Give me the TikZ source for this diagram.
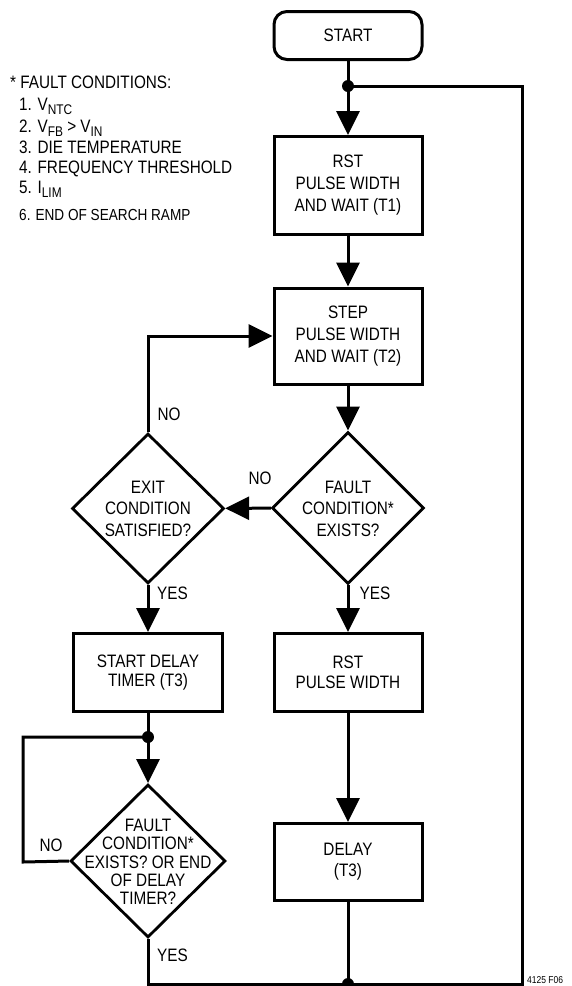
\documentclass[tikz,border=0pt]{standalone}
\usepackage{fontspec}
\setmainfont{Liberation Sans}[FakeStretch=0.85]
\usetikzlibrary{shapes.geometric,arrows.meta}
\newcommand\lowsub[1]{\raisebox{-4pt}{\fontsize{14}{14}\selectfont #1}}
\begin{document}
\begin{tikzpicture}[x=1pt,y=-1pt,
  box/.style={draw, line width=3pt, minimum width=148pt, inner sep=0pt, align=center},
  dia/.style={draw, diamond, line width=2.8pt, inner sep=0pt},
  txt/.style={inner sep=0pt, align=center, font=\fontsize{18}{21.5}\selectfont},
  txtsm/.style={inner sep=0pt, align=center, font=\fontsize{18}{18.3}\selectfont},
  lbl/.style={inner sep=0pt, font=\fontsize{18}{18}\selectfont},
  note/.style={inner sep=0pt, anchor=base west, font=\fontsize{18}{18}\selectfont},
  conn/.style={line width=3pt},
  arr/.style={line width=3pt, -{Triangle[length=24pt,width=23pt]}},
  jdot/.style={circle, fill, inner sep=0pt, minimum size=12pt}
]
\useasboundingbox (0,0) rectangle (572,986);

% notes
\node[note] (n0) at (10,88) {* FAULT CONDITIONS:};
\node[note] (n1) at (19,110) {1. V\lowsub{NTC}};
\node[note] (n2) at (19,132) {2. V\lowsub{FB} > V\lowsub{IN}};
\node[note] (n3) at (19,153) {3. DIE TEMPERATURE};
\node[note] (n4) at (19,173) {4. FREQUENCY THRESHOLD};
\node[note] (n5) at (19,193) {5. I\lowsub{LIM}};
\node[note, font=\fontsize{16}{16}\selectfont] (n6) at (19,220) {6. END OF SEARCH RAMP};

% right column
\node[box, rounded corners=13pt, minimum height=48pt, font=\fontsize{18}{21.5}\selectfont] (start) at (348,35.5) {START};
\node[box, minimum height=98pt, font=\fontsize{18}{22}\selectfont] (b1) at (348,185.5) {RST\\PULSE WIDTH\\AND WAIT (T1)};
\node[box, minimum height=96pt, font=\fontsize{18}{22}\selectfont] (b2) at (348,336) {STEP\\PULSE WIDTH\\AND WAIT (T2)};
\node[dia, minimum width=152pt, minimum height=152pt] (d1) at (348,508) {};
\node[txt] (t1) at (348,508.5) {FAULT\\CONDITION*\\EXISTS?};
\node[box, minimum height=78pt, font=\fontsize{18}{20.5}\selectfont] (b3) at (348,672.5) {RST\\PULSE WIDTH};
\node[box, minimum height=77pt, font=\fontsize{18}{21}\selectfont] (b4) at (348,862) {DELAY\\(T3)};

% left column
\node[dia, minimum width=152pt, minimum height=150pt] (ex) at (148,508.5) {};
\node[txt] (t2) at (148,508.5) {EXIT\\CONDITION\\SATISFIED?};
\node[box, minimum width=149pt, minimum height=78pt, font=\fontsize{18}{19.5}\selectfont] (b5) at (148,672.5) {START DELAY\\TIMER (T3)};
\node[dia, minimum width=155pt, minimum height=153pt] (d3) at (148,861) {};
\node[txtsm] (t3) at (148,862) {FAULT\\CONDITION*\\EXISTS? OR END\\OF DELAY\\TIMER?};

% junctions and corners
\node[jdot] (dtop) at (348,86) {};
\node[jdot] (dleft) at (148,737) {};
\node[jdot] (dbot) at (348,984) {};
\coordinate (ll) at (23,862);
\coordinate (br) at (522,984);
\coordinate (tr) at (522,86);

% labels
\node[lbl] (no1) at (169,414) {NO};
\node[lbl] (no2) at (260,478) {NO};
\node[lbl] (no3) at (51,845) {NO};
\node[lbl] (yes1) at (172.5,593) {YES};
\node[lbl] (yes2) at (375,593) {YES};
\node[lbl] (yes3) at (172.5,955) {YES};
\node[inner sep=0pt, anchor=west, font=\fontsize{10}{10}\selectfont] (fig) at (527,980) {4125 F06};

% connectors
\draw[conn] (start) -- (dtop.center);
\draw[arr] (dtop.center) -- (b1);
\draw[arr] (b1) -- (b2);
\draw[arr] (b2) -- (d1);
\draw[arr] (d1) -- (ex);
\draw[arr] (ex.north) |- (b2.west);
\draw[arr] (ex) -- (b5);
\draw[conn] (b5) -- (dleft.center);
\draw[arr] (dleft.center) -- (d3);
\draw[conn] (dleft.center) -| (ll) -- (d3.west);
\draw[arr] (d1) -- (b3);
\draw[arr] (b3) -- (b4);
\draw[conn] (b4) -- (dbot.center);
\draw[conn] (d3.south) |- (br) -- (tr) -- (dtop.center);
\end{tikzpicture}
\end{document}
